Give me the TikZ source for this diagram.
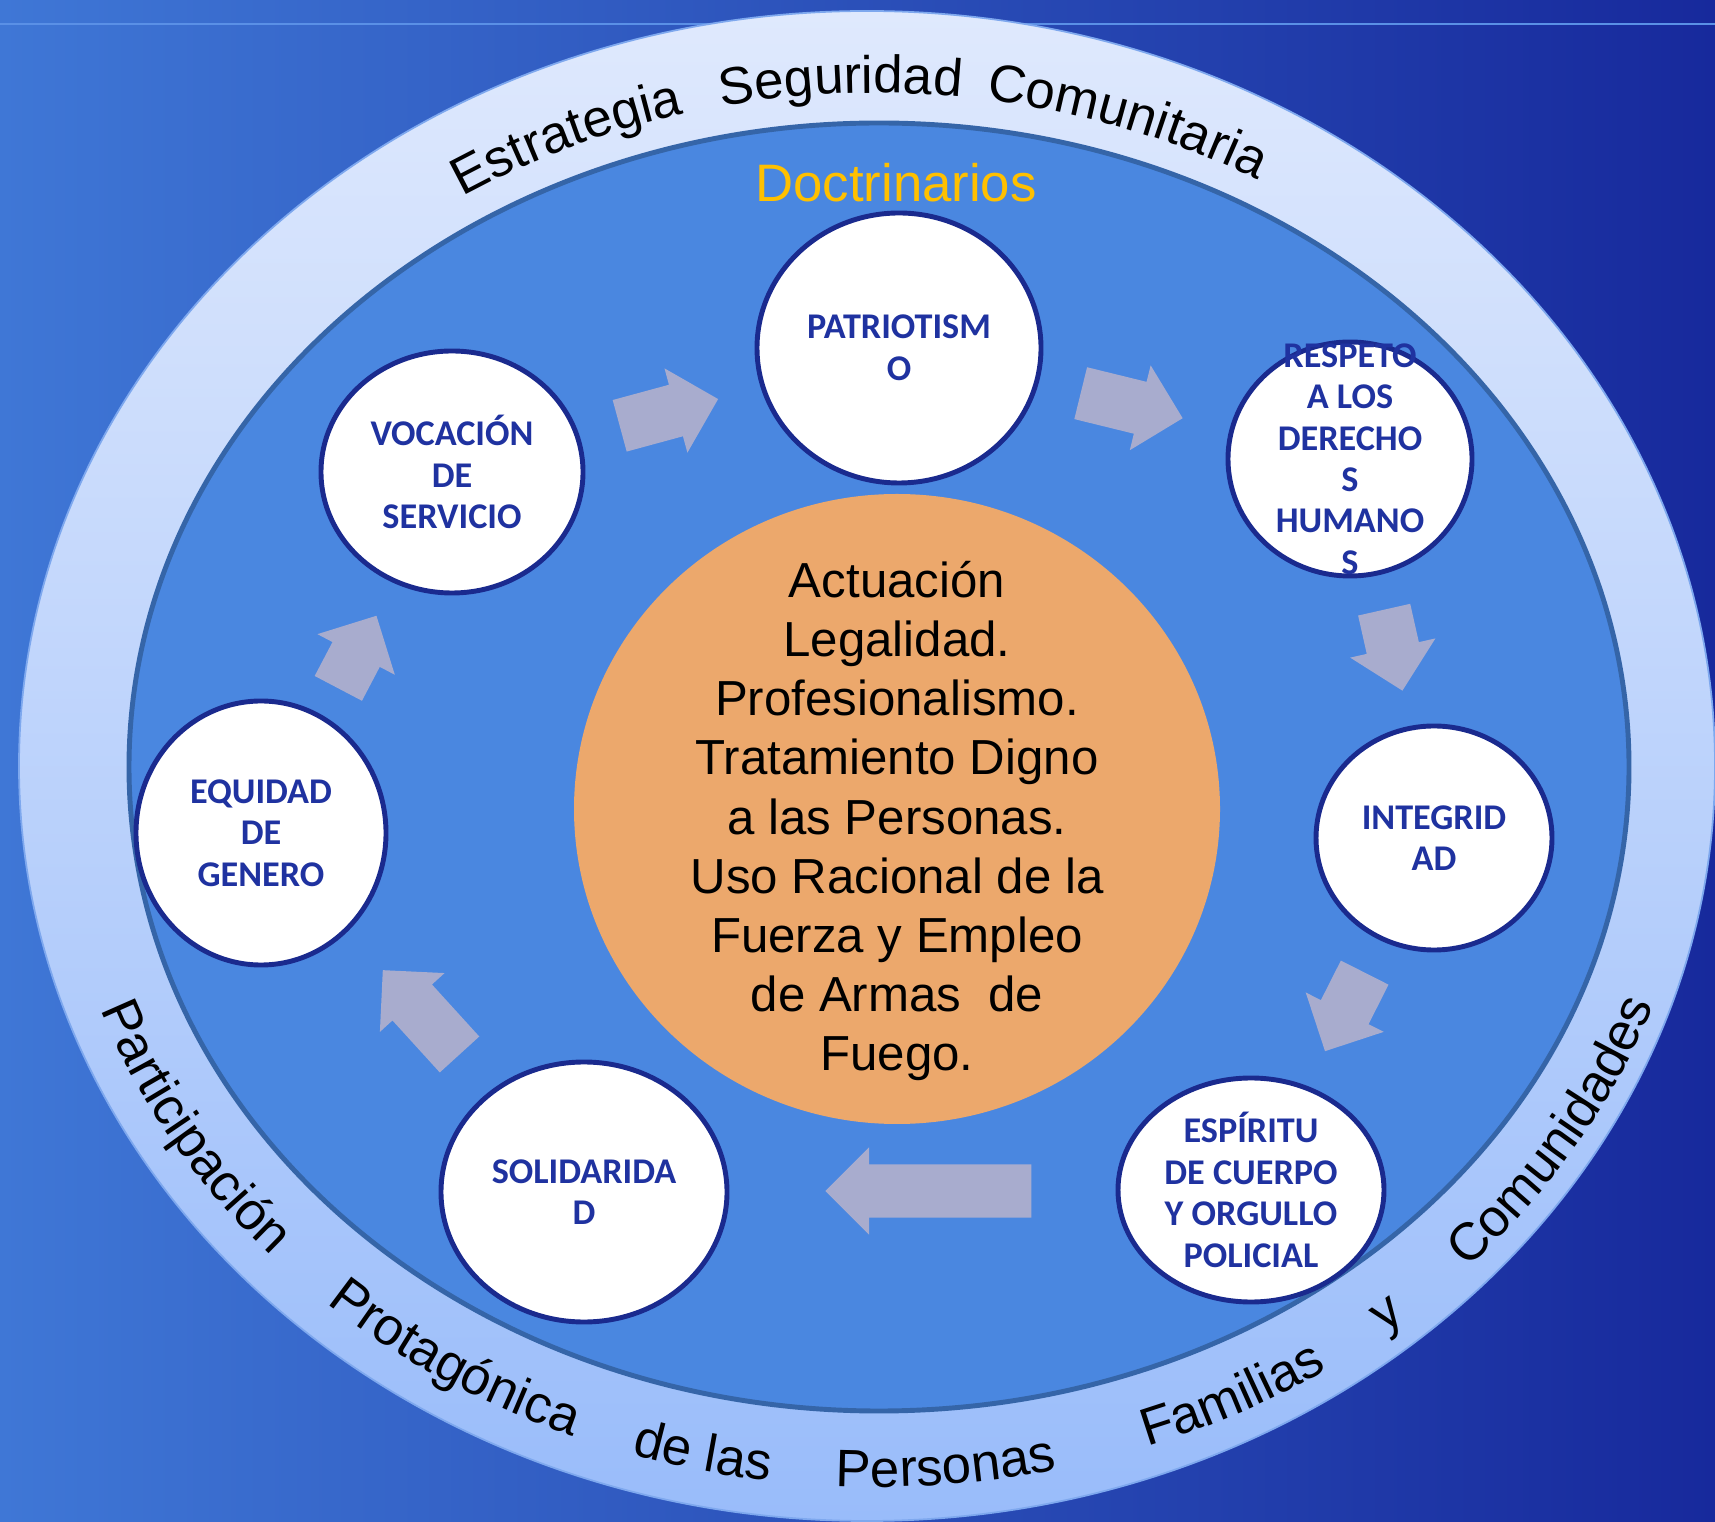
\documentclass[tikz,border=0pt]{standalone}
\usepackage{fontspec}
\setmainfont{Liberation Sans}
\newfontfamily\valuefont{Carlito}
\usepackage{tikz}
\usetikzlibrary{shapes.geometric,shapes.arrows,decorations.text}
\definecolor{bgleft}{HTML}{3F77D6}
\definecolor{bgright}{HTML}{17299C}
\definecolor{topline}{HTML}{5A90E6}
\definecolor{bandtop}{HTML}{DFE9FD}
\definecolor{bandbottom}{HTML}{99BCFA}
\definecolor{bandedge}{HTML}{7EA8EE}
\definecolor{innerfill}{HTML}{4A87E0}
\definecolor{inneredge}{HTML}{3565A8}
\definecolor{valueline}{HTML}{1A2A8E}
\definecolor{valuetext}{HTML}{1F32A0}
\definecolor{coreorange}{HTML}{ECA86C}
\definecolor{arrowgrey}{HTML}{A8ACCE}
\definecolor{doctrgold}{HTML}{FFC000}
\newcommand\bandtext{\fontsize{15pt}{18pt}\selectfont}

\begin{document}
\begin{tikzpicture}
      [value node/.style={ellipse, draw=valueline, line width=1.4pt, fill=white, inner sep=0pt},
      value text/.style={align=center, inner sep=0pt, text=valuetext, font=\valuefont\bfseries\fontsize{10.3pt}{11.8pt}\selectfont},
      core node/.style={ellipse, fill=coreorange, inner sep=0pt},
      core text/.style={align=center, inner sep=0pt, font=\fontsize{14pt}{16.8pt}\selectfont},
      block arrow/.style={single arrow, anchor=tail, fill=arrowgrey, inner xsep=0pt, inner ysep=0.26cm, single arrow head extend=0.17cm, single arrow head indent=0pt},
      top word/.style={decorate, decoration={text along path, text align=center, text={|\bandtext|#1}}}
      ]
    \useasboundingbox (0,0) rectangle (17.15,15.21);
    \fill[left color=bgleft, right color=bgright] (0,0) rectangle (17.15,15.21);
    \draw[topline, line width=0.6pt] (0,14.97) -- (17.15,14.97);

    \coordinate (bandc) at (8.76,7.55);
    \draw[bandedge, line width=0.5pt, top color=bandtop, bottom color=bandbottom] (8.67,7.55) ellipse [x radius=8.48, y radius=7.55];
    \draw[inneredge, line width=1.4pt, fill=innerfill] (8.79,7.54) ellipse [x radius=7.50, y radius=6.44];

    \path[top word=Estrategia] (bandc) ++(133.5:7.76 and 6.73) arc[start angle=133.5, end angle=93.5, x radius=7.76, y radius=6.73];
    \path[top word=Seguridad] (bandc) ++(112.6:7.76 and 6.73) arc[start angle=112.6, end angle=72.6, x radius=7.76, y radius=6.73];
    \path[top word=Comunitaria] (bandc) ++(91:7.76 and 6.73) arc[start angle=91, end angle=51, x radius=7.76, y radius=6.73];

    \path[top word=Participación] (bandc) ++(191:8.24 and 7.21) arc[start angle=191, end angle=231, x radius=8.24, y radius=7.21];
    \path[top word=Protagónica] (bandc) ++(218:8.24 and 7.21) arc[start angle=218, end angle=258, x radius=8.24, y radius=7.21];
    \path[top word=de las] (bandc) ++(237.5:8.24 and 7.21) arc[start angle=237.5, end angle=277.5, x radius=8.24, y radius=7.21];
    \path[top word=Personas] (bandc) ++(255:8.24 and 7.21) arc[start angle=255, end angle=295, x radius=8.24, y radius=7.21];
    \path[top word=Familias] (bandc) ++(276.5:8.24 and 7.21) arc[start angle=276.5, end angle=316.5, x radius=8.24, y radius=7.21];
    \path[top word=y] (bandc) ++(289.5:8.24 and 7.21) arc[start angle=289.5, end angle=329.5, x radius=8.24, y radius=7.21];
    \path[top word=Comunidades] (bandc) ++(308.5:8.24 and 7.21) arc[start angle=308.5, end angle=348.5, x radius=8.24, y radius=7.21];

    \node[text=doctrgold, font=\fontsize{15pt}{18pt}\selectfont] (doctr) at (8.96,13.38) {Doctrinarios};

    \node[block arrow, minimum height=1.02cm, rotate=15.2] (arrVP) at (6.19,10.95) {};
    \node[block arrow, minimum height=1.05cm, rotate=-13.8] (arrPR) at (10.80,11.28) {};
    \node[block arrow, minimum height=0.83cm, rotate=-77.3] (arrRI) at (13.84,9.12) {};
    \node[block arrow, minimum height=0.88cm, rotate=-116.8] (arrIE) at (13.65,5.49) {};
    \node[block arrow, minimum height=2.06cm, rotate=180] (arrES) at (10.32,3.30) {};
    \node[block arrow, minimum height=1.14cm, rotate=132.3] (arrSE) at (4.60,4.66) {};
    \node[block arrow, minimum height=0.82cm, rotate=62.3] (arrEV) at (3.38,8.32) {};

    \node[value node, minimum width=2.84cm, minimum height=2.70cm] (pat) at (8.99,11.73) {};
    \node[value node, minimum width=2.44cm, minimum height=2.34cm] (res) at (13.50,10.62) {};
    \node[value node, minimum width=2.36cm, minimum height=2.24cm] (integ) at (14.34,6.83) {};
    \node[value node, minimum width=2.66cm, minimum height=2.24cm] (esp) at (12.51,3.31) {};
    \node[value node, minimum width=2.86cm, minimum height=2.60cm] (sol) at (5.84,3.29) {};
    \node[value node, minimum width=2.50cm, minimum height=2.64cm] (equ) at (2.61,6.88) {};
    \node[value node, minimum width=2.62cm, minimum height=2.42cm] (voc) at (4.52,10.49) {};

    \node[value text] (pat-txt) at (pat) {PATRIOTISM\\O};
    \node[value text] (res-txt) at (res) {RESPETO\\A LOS\\DERECHO\\S\\HUMANO\\S};
    \node[value text] (integ-txt) at (integ) {INTEGRID\\AD};
    \node[value text] (esp-txt) at (esp) {ESPÍRITU\\DE CUERPO\\Y ORGULLO\\POLICIAL};
    \node[value text] (sol-txt) at (sol) {SOLIDARIDA\\D};
    \node[value text] (equ-txt) at (equ) {EQUIDAD\\DE\\GENERO};
    \node[value text] (voc-txt) at (voc) {VOCACIÓN\\DE\\SERVICIO};

    \node[core node, minimum width=6.46cm, minimum height=6.30cm] (core) at (8.97,7.12) {};
    \node[core text, yshift=-0.12cm] (core-txt) at (core)
      {Actuación\\Legalidad.\\Profesionalismo.\\Tratamiento Digno\\a las Personas.\\Uso Racional de la\\Fuerza y Empleo\\de Armas \ de\\Fuego.};
\end{tikzpicture}
\end{document}
